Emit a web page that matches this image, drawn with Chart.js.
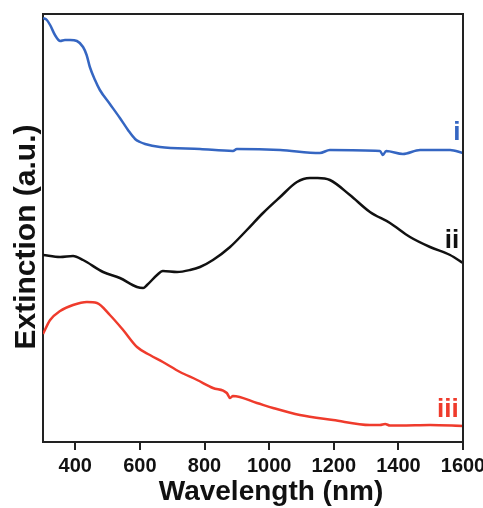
<!DOCTYPE html>
<html>
<head>
<meta charset="utf-8">
<script src="https://cdn.jsdelivr.net/npm/chart.js@4"></script>
<style>
  body { margin: 0; background: #fff; }
  #wrap { width: 483px; height: 508px; }
</style>
</head>
<body>
<div id="wrap"><canvas id="chart" width="483" height="508"></canvas></div>
<script>
// Series i (blue)
const nmI  = [300, 312, 322, 337, 353, 368, 384, 405, 424, 435, 445, 461, 476, 507, 538, 563, 585, 600, 616, 662, 786, 888, 900, 1034, 1157, 1188, 1343, 1352, 1362, 1414, 1467, 1560, 1600];
const valI = [424, 422, 417, 407, 401, 402, 402, 401, 395, 387, 375, 362, 352, 338, 324, 312, 303, 300, 298, 295, 293, 291, 293, 292, 289, 292, 291, 287, 291, 288, 292, 292, 289];

// Series ii (black)
const nmII  = [300, 353, 393, 424, 486, 538, 591, 610, 622, 653, 671, 715, 755, 786, 826, 879, 931, 981, 1034, 1086, 1126, 1150, 1188, 1250, 1312, 1374, 1436, 1498, 1560, 1600];
const valII = [187, 185, 186, 182, 170, 164, 155, 154, 157, 167, 171, 170, 172, 175, 182, 195, 212, 229, 245, 260, 264, 264, 262, 247, 230, 219, 205, 195, 187, 179];

// Series iii (red)
const nmIII  = [300, 322, 353, 393, 436, 467, 507, 548, 591, 631, 671, 724, 777, 826, 869, 879, 888, 962, 1012, 1095, 1198, 1312, 1343, 1359, 1374, 1405, 1498, 1600];
const valIII = [108, 122, 131, 137, 140, 139, 127, 112, 95, 87, 80, 70, 62, 54, 49, 44, 46, 39, 34, 27, 22, 17, 17, 18, 16.5, 16.5, 17, 16];

const xTicks = [400, 600, 800, 1000, 1200, 1400, 1600];

const xTitle = "Wavelength (nm)";
const yTitle = "Extinction (a.u.)";

const BLUE = "#3566c2";
const BLACK = "#111111";
const RED = "#ef3b2c";
const AXIS = "#222222";
const FONT = "'Liberation Sans', Arial, sans-serif";

function pts(xs, ys) {
  return xs.map((x, i) => ({ x: x, y: ys[i] }));
}

function lineSet(label, xs, ys, color) {
  return {
    label: label,
    data: pts(xs, ys),
    borderColor: color,
    borderWidth: 2.5,
    pointRadius: 0,
    fill: false,
    cubicInterpolationMode: "monotone"
  };
}

// curve tags: text, anchor in data coords, colour
const tags = [
  { text: "i",   x: 1581, y: 309, color: BLUE },
  { text: "ii",  x: 1566, y: 201, color: BLACK },
  { text: "iii", x: 1553, y: 32,  color: RED }
];

const framePlugin = {
  id: "frame",
  afterDraw(chart) {
    const { ctx, chartArea: a, scales } = chart;
    ctx.save();
    ctx.strokeStyle = AXIS;
    ctx.lineWidth = 2;
    ctx.beginPath();
    ctx.moveTo(a.left, a.top);
    ctx.lineTo(a.right, a.top);
    ctx.lineTo(a.right, a.bottom);
    ctx.stroke();

    ctx.font = "bold 26px " + FONT;
    ctx.textAlign = "center";
    ctx.textBaseline = "middle";
    tags.forEach(t => {
      ctx.fillStyle = t.color;
      ctx.fillText(t.text, scales.x.getPixelForValue(t.x), scales.y.getPixelForValue(t.y));
    });

    // axis titles
    ctx.fillStyle = "#111";
    ctx.textBaseline = "alphabetic";
    ctx.font = "bold 28px " + FONT;
    ctx.fillText(xTitle, 271, 500);

    ctx.translate(35, 237);
    ctx.rotate(-Math.PI / 2);
    ctx.font = "bold 30px " + FONT;
    ctx.fillText(yTitle, 0, 0);
    ctx.restore();
  }
};

new Chart(document.getElementById("chart"), {
  type: "line",
  data: {
    datasets: [
      lineSet("i", nmI, valI, BLUE),
      lineSet("ii", nmII, valII, BLACK),
      lineSet("iii", nmIII, valIII, RED)
    ]
  },
  options: {
    responsive: false,
    animation: false,
    layout: { padding: { top: 14, right: 20, left: 0, bottom: 0 } },
    plugins: { legend: { display: false }, tooltip: { enabled: false } },
    scales: {
      x: {
        type: "linear",
        min: 300,
        max: 1600,
        afterBuildTicks(scale) {
          scale.ticks = xTicks.map(v => ({ value: v }));
        },
        afterFit(scale) {
          scale.height = 66;
          scale.paddingRight = 20;
          scale.paddingLeft = 0;
        },
        grid: { display: true, drawOnChartArea: false, drawTicks: true, tickLength: 8, color: AXIS, lineWidth: 2 },
        border: { display: true, color: AXIS, width: 2 },
        ticks: {
          color: "#111",
          padding: 4,
          maxRotation: 0,
          autoSkip: false,
          callback: v => String(v),
          font: { family: FONT, size: 20, weight: "bold" }
        },
        title: { display: false }
      },
      y: {
        min: 0,
        max: 428,
        afterFit(scale) {
          scale.width = 43;
        },
        grid: { display: false },
        border: { display: true, color: AXIS, width: 2 },
        ticks: { display: false },
        title: { display: false }
      }
    }
  },
  plugins: [framePlugin]
});
</script>
</body>
</html>
